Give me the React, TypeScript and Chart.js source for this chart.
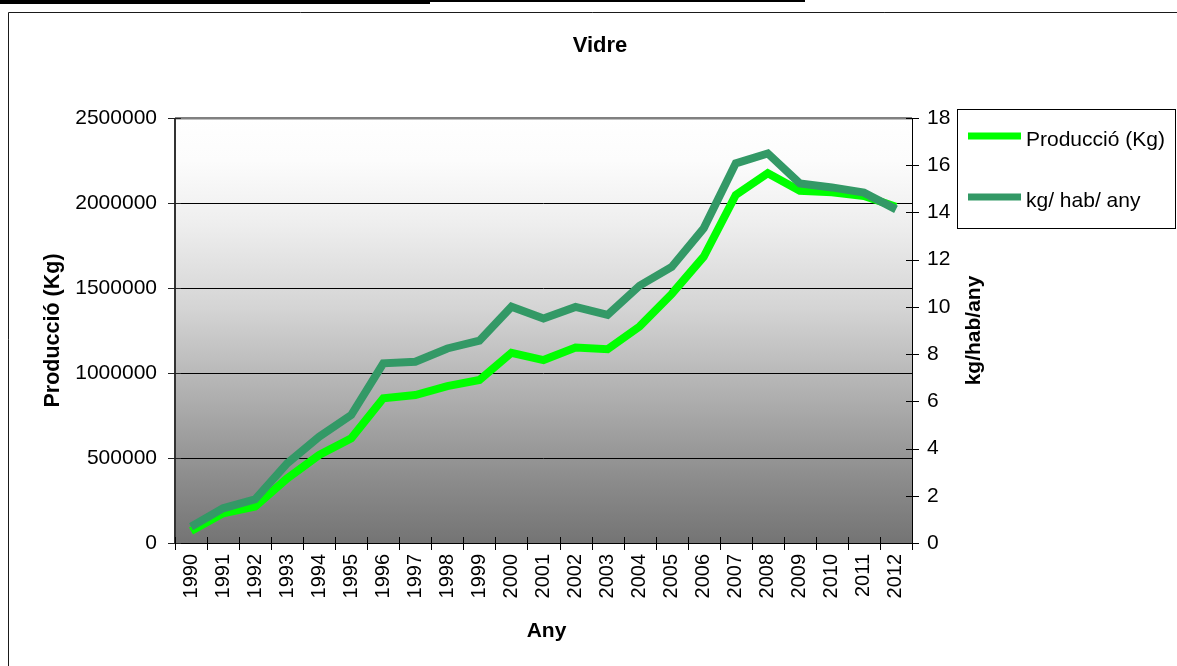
import React, { useEffect, useRef } from "react";
import { Chart, registerables } from "chart.js";

Chart.register(...registerables);

// ---- Data ----
const years = [
  "1990", "1991", "1992", "1993", "1994", "1995", "1996", "1997", "1998", "1999", "2000", "2001",
  "2002", "2003", "2004", "2005", "2006", "2007", "2008", "2009", "2010", "2011", "2012",
];
const produccio = [
  70000, 175000, 214000, 380000, 518000, 616000, 851000, 870000, 923000, 959000, 1119000, 1076000,
  1150000, 1140000, 1274000, 1465000, 1684000, 2047000, 2175000, 2072000, 2063000, 2041000, 1978000,
];
const kgHabAny = [
  0.69, 1.47, 1.85, 3.37, 4.5, 5.42, 7.61, 7.68, 8.24, 8.57, 10.01, 9.51,
  10.0, 9.66, 10.9, 11.69, 13.33, 16.08, 16.5, 15.23, 15.06, 14.84, 14.13,
];
const leftAxis = { min: 0, max: 2500000, step: 500000 };
const rightAxis = { min: 0, max: 18, step: 2 };
const seriesNames = ["Producció (Kg)", "kg/ hab/ any"];
const chartTitle = "Vidre";
const xTitle = "Any";
const yTitle = "Producció (Kg)";
const y1Title = "kg/hab/any";

const COLORS = ["#00FF00", "#339966"];
const FONT = "'Liberation Sans', Arial, Helvetica, sans-serif";

const W = 1177;
const H = 666;
const PLOT = { left: 175, top: 118, right: 912, bottom: 543 };

const decor = {
  id: "decor",
  beforeDraw(chart: any) {
    const ctx = chart.ctx;
    const a = chart.chartArea;
    ctx.save();
    ctx.fillStyle = "#ffffff";
    ctx.fillRect(0, 0, chart.width, chart.height);
    // top rules
    ctx.fillStyle = "#000";
    ctx.fillRect(0, 0, 430, 4);
    ctx.fillRect(430, 0, 375, 2);
    // outer chart box
    ctx.strokeStyle = "#1a1a1a";
    ctx.lineWidth = 1;
    ctx.beginPath();
    ctx.moveTo(8.5, chart.height);
    ctx.lineTo(8.5, 12.5);
    ctx.lineTo(chart.width, 12.5);
    ctx.stroke();
    // plot background gradient
    const g = ctx.createLinearGradient(0, a.top, 0, a.bottom);
    g.addColorStop(0, "#ffffff");
    g.addColorStop(0.1, "#fcfcfc");
    g.addColorStop(0.25, "#eeeeee");
    g.addColorStop(0.45, "#d4d4d4");
    g.addColorStop(0.65, "#b0b0b0");
    g.addColorStop(0.85, "#8c8c8c");
    g.addColorStop(1, "#747474");
    ctx.fillStyle = g;
    ctx.fillRect(a.left, a.top, a.right - a.left, a.bottom - a.top);
    ctx.restore();
  },
  afterDatasetsDraw(chart: any) {
    const ctx = chart.ctx;
    const a = chart.chartArea;
    const yS = chart.scales.y;
    const y1S = chart.scales.y1;
    ctx.save();
    // left axis line
    ctx.strokeStyle = "#333";
    ctx.lineWidth = 2;
    ctx.beginPath();
    ctx.moveTo(a.left, a.top);
    ctx.lineTo(a.left, a.bottom + 1);
    ctx.stroke();
    // right axis line
    ctx.strokeStyle = "#000";
    ctx.lineWidth = 1;
    ctx.beginPath();
    ctx.moveTo(a.right + 0.5, a.top);
    ctx.lineTo(a.right + 0.5, a.bottom);
    ctx.stroke();
    // bottom axis line
    ctx.beginPath();
    ctx.moveTo(a.left, a.bottom + 0.5);
    ctx.lineTo(a.right + 1, a.bottom + 0.5);
    ctx.stroke();
    // left ticks
    ctx.strokeStyle = "#222";
    for (let v = leftAxis.min; v <= leftAxis.max; v += leftAxis.step) {
      const y = Math.round(yS.getPixelForValue(v)) + 0.5;
      ctx.beginPath();
      ctx.moveTo(a.left - 7, y);
      ctx.lineTo(a.left + 6, y);
      ctx.stroke();
    }
    // right ticks
    ctx.strokeStyle = "#000";
    for (let v = rightAxis.min; v <= rightAxis.max; v += rightAxis.step) {
      const y = Math.round(y1S.getPixelForValue(v)) + 0.5;
      ctx.beginPath();
      ctx.moveTo(a.right - 6, y);
      ctx.lineTo(a.right + 7, y);
      ctx.stroke();
    }
    // bottom category ticks
    const n = years.length;
    const step = (a.right - a.left) / n;
    for (let i = 0; i <= n; i++) {
      const x = Math.round(a.left + i * step) + 0.5;
      ctx.beginPath();
      ctx.moveTo(x, a.bottom - 6);
      ctx.lineTo(x, a.bottom + 7);
      ctx.stroke();
    }
    ctx.restore();
  },
  afterDraw(chart: any) {
    const ctx = chart.ctx;
    const a = chart.chartArea;
    ctx.save();
    ctx.fillStyle = "#000";
    // chart title
    ctx.font = `bold 22px ${FONT}`;
    ctx.textAlign = "center";
    ctx.textBaseline = "alphabetic";
    ctx.fillText(chartTitle, 600, 52);
    // x title
    ctx.font = `bold 21px ${FONT}`;
    ctx.fillText(xTitle, (a.left + a.right) / 2 + 3, 637);
    // left title
    const cy = (a.top + a.bottom) / 2;
    ctx.save();
    ctx.translate(59, cy);
    ctx.rotate(-Math.PI / 2);
    ctx.font = `bold 21.5px ${FONT}`;
    ctx.fillText(yTitle, 0, 0);
    ctx.restore();
    // right title
    ctx.save();
    ctx.translate(980, cy);
    ctx.rotate(-Math.PI / 2);
    ctx.font = `bold 21px ${FONT}`;
    ctx.fillText(y1Title, 0, 0);
    ctx.restore();
    // legend
    ctx.strokeStyle = "#000";
    ctx.lineWidth = 1;
    ctx.strokeRect(957.5, 109.5, 218, 119);
    const rows = [136, 197];
    ctx.font = `21px ${FONT}`;
    ctx.textAlign = "left";
    ctx.textBaseline = "middle";
    seriesNames.forEach((name, i) => {
      ctx.strokeStyle = COLORS[i];
      ctx.lineWidth = 7;
      ctx.beginPath();
      ctx.moveTo(968, rows[i]);
      ctx.lineTo(1021, rows[i]);
      ctx.stroke();
      ctx.fillStyle = "#000";
      ctx.fillText(name, 1026, rows[i] + 4);
    });
    ctx.restore();
  },
};

export default function App() {
  const canvasRef = useRef<HTMLCanvasElement | null>(null);

  useEffect(() => {
    const canvas = canvasRef.current;
    if (!canvas) return;
    const chart = new Chart(canvas, {
      type: "line",
      data: {
        labels: years,
        datasets: [
          {
            label: seriesNames[0],
            data: produccio,
            yAxisID: "y",
            borderColor: COLORS[0],
            backgroundColor: COLORS[0],
            borderWidth: 8,
            pointRadius: 0,
            tension: 0,
            fill: false,
            order: 1,
          },
          {
            label: seriesNames[1],
            data: kgHabAny,
            yAxisID: "y1",
            borderColor: COLORS[1],
            backgroundColor: COLORS[1],
            borderWidth: 8,
            pointRadius: 0,
            tension: 0,
            fill: false,
            order: 0,
          },
        ],
      },
      options: {
        animation: false,
        responsive: true,
        maintainAspectRatio: false,
        events: [],
        layout: { padding: { top: PLOT.top, left: 0, right: 0, bottom: 0 } },
        plugins: {
          legend: { display: false },
          title: { display: false },
          tooltip: { enabled: false },
        },
        scales: {
          x: {
            type: "category",
            offset: true,
            grid: { display: false, drawTicks: false },
            border: { display: false },
            ticks: {
              color: "#000",
              font: { family: FONT, size: 20 },
              minRotation: 90,
              maxRotation: 90,
              autoSkip: false,
              padding: 11,
            },
            afterFit(s: any) {
              s.height = H - PLOT.bottom;
            },
          },
          y: {
            position: "left",
            min: leftAxis.min,
            max: leftAxis.max,
            grid: {
              drawTicks: false,
              color: (c: any) => (c.tick && c.tick.value === leftAxis.max ? "#808080" : "#000"),
              lineWidth: (c: any) => (c.tick && c.tick.value === leftAxis.max ? 2.5 : 1),
            },
            border: { display: false },
            ticks: {
              stepSize: leftAxis.step,
              color: "#000",
              font: { family: FONT, size: 21 },
              padding: 18,
              callback: (v: any) => String(v),
            },
            afterFit(s: any) {
              s.width = PLOT.left;
            },
          },
          y1: {
            position: "right",
            min: rightAxis.min,
            max: rightAxis.max,
            grid: { display: false, drawTicks: false },
            border: { display: false },
            ticks: {
              stepSize: rightAxis.step,
              color: "#000",
              font: { family: FONT, size: 21 },
              padding: 15,
              callback: (v: any) => String(v),
            },
            afterFit(s: any) {
              s.width = W - PLOT.right;
            },
          },
        },
      },
      plugins: [decor],
    });
    return () => chart.destroy();
  }, []);

  return (
    <div style={{ position: "fixed", left: 0, top: 0, width: W, height: H }}>
      <canvas ref={canvasRef} />
    </div>
  );
}
